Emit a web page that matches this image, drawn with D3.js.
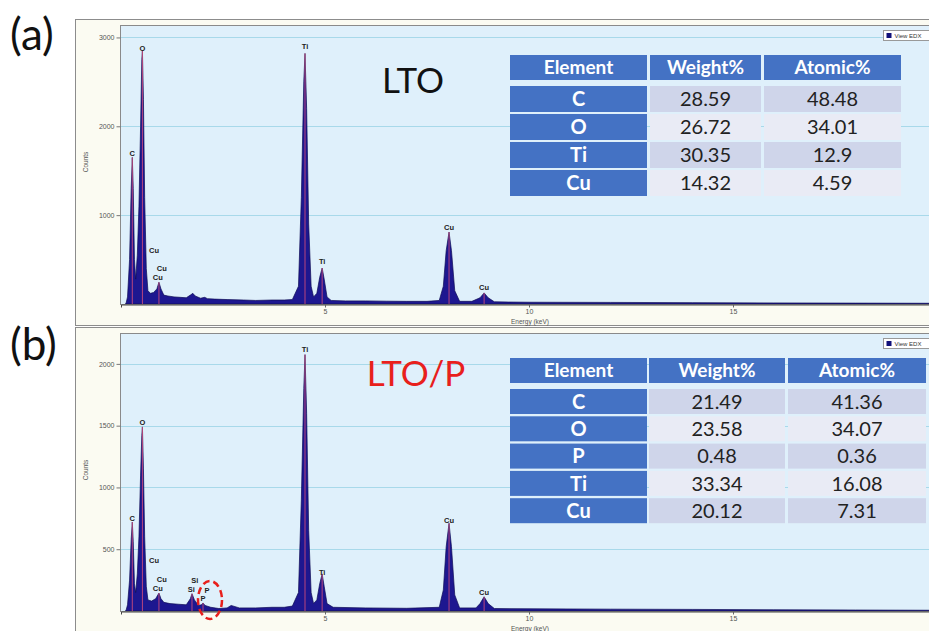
<!DOCTYPE html>
<html>
<head>
<meta charset="utf-8">
<script src="https://cdn.jsdelivr.net/npm/d3@7"></script>
<style>
  body { margin: 0; background: #fff; overflow: hidden; }
  svg { display: block; font-family: "Liberation Sans", Arial, sans-serif; }
</style>
</head>
<body>
<div id="chart"></div>
<script>
// ---- spectrum (a) LTO : energy (keV) / counts
const energyA = [0.10, 0.12, 0.16, 0.21, 0.25, 0.277, 0.30, 0.33, 0.36, 0.40, 0.44, 0.48, 0.51, 0.525, 0.55, 0.58, 0.62, 0.66, 0.72, 0.80, 0.88, 0.93, 0.98, 1.05, 1.15, 1.30, 1.45, 1.60, 1.70, 1.76, 1.82, 1.95, 2.05, 2.12, 2.30, 2.60, 3.00, 3.30, 3.70, 4.00, 4.20, 4.35, 4.42, 4.48, 4.51, 4.55, 4.60, 4.66, 4.72, 4.80, 4.87, 4.93, 4.98, 5.05, 5.15, 5.50, 6.00, 6.50, 7.00, 7.50, 7.80, 7.90, 7.97, 8.04, 8.10, 8.18, 8.30, 8.60, 8.80, 8.90, 9.00, 9.15, 9.50, 10.0, 12.0, 14.0, 16.0, 18.0, 20.0]
const countsA = [0, 0, 80, 500, 1300, 1650, 1300, 500, 280, 550, 1100, 2000, 2750, 2850, 2300, 1200, 400, 150, 120, 130, 170, 245, 170, 100, 90, 80, 75, 70, 100, 120, 90, 65, 75, 60, 55, 50, 45, 40, 45, 45, 50, 200, 1200, 2500, 2820, 2200, 900, 200, 80, 120, 300, 405, 280, 80, 40, 35, 35, 32, 30, 30, 40, 200, 600, 810, 600, 150, 30, 30, 70, 125, 70, 25, 22, 20, 18, 15, 12, 10, 8]

// ---- spectrum (b) LTO/P
const energyB = [0.10, 0.12, 0.16, 0.21, 0.25, 0.277, 0.30, 0.33, 0.36, 0.40, 0.44, 0.48, 0.51, 0.525, 0.55, 0.58, 0.62, 0.66, 0.75, 0.85, 0.93, 0.98, 1.05, 1.20, 1.40, 1.60, 1.70, 1.74, 1.80, 1.90, 1.97, 2.01, 2.06, 2.20, 2.40, 2.60, 2.70, 2.90, 3.30, 3.70, 4.00, 4.20, 4.35, 4.42, 4.48, 4.51, 4.55, 4.60, 4.66, 4.72, 4.80, 4.87, 4.93, 4.98, 5.05, 5.20, 6.00, 7.00, 7.80, 7.90, 7.97, 8.04, 8.10, 8.18, 8.30, 8.70, 8.80, 8.90, 9.00, 9.15, 10.0, 12.0, 14.0, 16.0, 18.0, 20.0]
const countsB = [0, 0, 50, 250, 580, 720, 560, 220, 150, 300, 600, 1100, 1420, 1490, 1150, 600, 200, 90, 80, 100, 145, 100, 70, 60, 55, 50, 100, 140, 90, 45, 50, 65, 45, 30, 20, 25, 45, 25, 25, 30, 30, 40, 150, 900, 1800, 2075, 1600, 650, 150, 60, 90, 220, 300, 200, 60, 30, 25, 22, 30, 170, 520, 710, 520, 130, 25, 25, 60, 115, 60, 20, 18, 15, 13, 10, 8, 6]

// ---- line markers (energy, top counts)
const markerEnergyA = [0.277, 0.525, 0.93, 4.51, 4.93, 8.04, 8.90]
const markerCountsA = [1650, 2850, 245, 2820, 405, 810, 125]
const markerEnergyB = [0.277, 0.525, 0.93, 1.74, 2.01, 4.51, 4.93, 8.04, 8.90]
const markerCountsB = [720, 1490, 145, 140, 65, 2075, 300, 710, 115]

// ---- peak labels
const labelNamesA = ["C", "O", "Cu", "Cu", "Cu", "Ti", "Ti", "Cu", "Cu"]
const labelEnergyA = [0.277, 0.525, 0.81, 1.00, 0.90, 4.51, 4.93, 8.04, 8.90]
const labelCountsA = [1700, 2880, 600, 405, 305, 2905, 484, 867, 190]
const labelNamesB = ["Ti", "O", "C", "Cu", "Cu", "Cu", "Si", "Si", "P", "P", "Ti", "Cu", "Cu"]
const labelEnergyB = [4.51, 0.525, 0.277, 0.81, 1.00, 0.90, 1.81, 1.72, 2.11, 2.01, 4.93, 8.04, 8.90]
const labelCountsB = [2120, 1530, 753, 413, 259, 186, 251, 178, 170, 105, 316, 737, 154]

// ---- ticks
const yTicksA = [1000, 2000, 3000]
const yTicksB = [500, 1000, 1500, 2000]
const xTicks = [5, 10, 15]

// ---- tables
const tableHeader = ["Element", "Weight%", "Atomic%"]
const elementsA = ["C", "O", "Ti", "Cu"]
const weightA = ["28.59", "26.72", "30.35", "14.32"]
const atomicA = ["48.48", "34.01", "12.9", "4.59"]
const elementsB = ["C", "O", "P", "Ti", "Cu"]
const weightB = ["21.49", "23.58", "0.48", "33.34", "20.12"]
const atomicB = ["41.36", "34.07", "0.36", "16.08", "7.31"]

const WIDTH = 929, HEIGHT = 631

const svg = d3.select("#chart").append("svg")
  .attr("width", WIDTH)
  .attr("height", HEIGHT)

svg.append("defs").selectAll("clipPath")
  .data([["clipA", 25, 304], ["clipB", 333, 611]])
  .enter().append("clipPath")
    .attr("id", d => d[0])
  .append("rect")
    .attr("x", 121).attr("y", d => d[1])
    .attr("width", 820).attr("height", d => d[2] - d[1])

const x = d3.scaleLinear().domain([0, 20]).range([121, 121 + 816])

function drawPanel(p) {
  const y = d3.scaleLinear().domain([0, p.yMax]).range([p.bottom, p.top])
  const g = svg.append("g")

  // window frame
  g.append("rect")
    .attr("x", 75.5).attr("y", p.frameTop + 0.5)
    .attr("width", 900).attr("height", p.frameBottom - p.frameTop)
    .attr("fill", "#fbfbf2")
    .attr("stroke", "#8c8c8c")

  // plot background
  g.append("rect")
    .attr("x", 120.5).attr("y", p.top + 0.5)
    .attr("width", 830).attr("height", p.bottom - p.top)
    .attr("fill", "#dff0fb")
    .attr("stroke", "#8a8a8a")

  // grid
  g.selectAll(".grid")
    .data(p.yTicks)
    .enter().append("line")
      .attr("x1", 121).attr("x2", 940)
      .attr("y1", d => Math.round(y(d)) + 0.5)
      .attr("y2", d => Math.round(y(d)) + 0.5)
      .attr("stroke", "#a8d9ea")

  // y axis
  const yAxis = g.append("g")
    .attr("transform", "translate(120.5,0)")
    .call(d3.axisLeft(y).tickValues(p.yTicks).tickFormat(d3.format("d")).tickSize(4).tickPadding(2))
  yAxis.select(".domain").remove()
  yAxis.selectAll("line").attr("stroke", "#777")
  yAxis.selectAll("text").attr("font-size", 7).attr("fill", "#555")

  // x axis
  const xAxis = g.append("g")
    .attr("transform", `translate(0,${p.bottom + 0.5})`)
    .call(d3.axisBottom(x).tickValues(xTicks).tickSize(3).tickPadding(2))
  xAxis.select(".domain").attr("stroke", "#444")
  xAxis.selectAll("line").attr("stroke", "#666")
  xAxis.selectAll("text").attr("font-size", 7).attr("fill", "#555")

  g.append("text")
    .attr("x", 530).attr("y", p.bottom + 20)
    .attr("text-anchor", "middle")
    .attr("font-size", 6.5).attr("fill", "#555")
    .text("Energy (keV)")

  g.append("text")
    .attr("transform", `translate(88,${p.countsY}) rotate(-90)`)
    .attr("text-anchor", "middle")
    .attr("font-size", 6.5).attr("fill", "#555")
    .text("Counts")

  // spectrum
  const pts = p.energy.map((e, i) => ({ e: e, c: p.counts[i] }))
  const area = d3.area()
    .x(d => x(d.e))
    .y0(y(0))
    .y1(d => y(d.c))

  const plot = g.append("g").attr("clip-path", `url(#${p.clip})`)
  plot.append("path")
    .datum(pts)
    .attr("d", area)
    .attr("fill", "#1d1790")
    .attr("stroke", "#0e0b55")
    .attr("stroke-width", 0.7)

  plot.selectAll(".marker")
    .data(p.markerE.map((e, i) => ({ e: e, c: p.markerC[i] })))
    .enter().append("line")
      .attr("x1", d => x(d.e)).attr("x2", d => x(d.e))
      .attr("y1", y(0)).attr("y2", d => y(d.c))
      .attr("stroke", "#e0507a")
      .attr("stroke-width", 0.8)

  g.selectAll(".plabel")
    .data(p.labelNames.map((n, i) => ({ n: n, e: p.labelE[i], c: p.labelC[i] })))
    .enter().append("text")
      .attr("x", d => x(d.e))
      .attr("y", d => y(d.c))
      .attr("dy", "0.35em")
      .attr("text-anchor", "middle")
      .attr("font-size", 7.5)
      .attr("font-weight", "bold")
      .attr("fill", "#222")
      .text(d => d.n)

  // "View EDX" legend box
  const lg = g.append("g").attr("transform", `translate(883.5,${p.top + 5.5})`)
  lg.append("rect").attr("width", 60).attr("height", 10)
    .attr("fill", "#fff").attr("stroke", "#999")
  lg.append("rect").attr("x", 3).attr("y", 2.5).attr("width", 5).attr("height", 5)
    .attr("fill", "#10107a")
  lg.append("text").attr("x", 11).attr("y", 7.5)
    .attr("font-size", 6).attr("fill", "#333")
    .text("View EDX")

  return { g: g, y: y }
}

function drawTable(t) {
  const g = svg.append("g").attr("font-family", "Lato, 'Open Sans', sans-serif")
  // header
  t.cols.forEach((cx, j) => {
    g.append("rect")
      .attr("x", cx).attr("y", t.headerY)
      .attr("width", t.widths[j]).attr("height", t.headerH)
      .attr("fill", "#4472c4")
    g.append("text")
      .attr("x", cx + t.widths[j] / 2).attr("y", t.headerY + t.headerH / 2)
      .attr("dy", "0.36em")
      .attr("text-anchor", "middle")
      .attr("font-size", 19).attr("font-weight", "bold")
      .attr("fill", "#fff")
      .text(tableHeader[j])
  })
  t.elements.forEach((el, i) => {
    const ry = t.rowY + i * t.pitch
    const cells = [el, t.weight[i], t.atomic[i]]
    cells.forEach((v, j) => {
      g.append("rect")
        .attr("x", t.cols[j]).attr("y", ry)
        .attr("width", t.widths[j]).attr("height", t.rowH)
        .attr("fill", j === 0 ? "#4472c4" : (i % 2 === 0 ? "#cfd5ea" : "#e9ebf5"))
      g.append("text")
        .attr("x", t.cols[j] + t.widths[j] / 2).attr("y", ry + t.rowH / 2)
        .attr("dy", "0.36em")
        .attr("text-anchor", "middle")
        .attr("font-size", 20)
        .attr("font-weight", j === 0 ? "bold" : "normal")
        .attr("fill", j === 0 ? "#fff" : "#222")
        .text(v)
    })
  })
}

drawPanel({
  frameTop: 19, frameBottom: 325, top: 25, bottom: 304, yMax: 3140,
  yTicks: yTicksA, countsY: 162, clip: "clipA",
  energy: energyA, counts: countsA,
  markerE: markerEnergyA, markerC: markerCountsA,
  labelNames: labelNamesA, labelE: labelEnergyA, labelC: labelCountsA
})

drawPanel({
  frameTop: 327, frameBottom: 645, top: 333, bottom: 611, yMax: 2250,
  yTicks: yTicksB, countsY: 470, clip: "clipB",
  energy: energyB, counts: countsB,
  markerE: markerEnergyB, markerC: markerCountsB,
  labelNames: labelNamesB, labelE: labelEnergyB, labelC: labelCountsB
})

drawTable({
  cols: [510, 650, 764], widths: [137, 111, 137],
  headerY: 55, headerH: 25, rowY: 86, pitch: 28, rowH: 26,
  elements: elementsA, weight: weightA, atomic: atomicA
})

drawTable({
  cols: [510, 649, 788], widths: [137, 136, 138],
  headerY: 358, headerH: 25, rowY: 389, pitch: 27.3, rowH: 25,
  elements: elementsB, weight: weightB, atomic: atomicB
})

// sample titles
svg.append("text")
  .attr("x", 413).attr("y", 93)
  .attr("text-anchor", "middle")
  .attr("font-family", "Lato, sans-serif")
  .attr("font-size", 35).attr("fill", "#111")
  .text("LTO")

svg.append("text")
  .attr("x", 416).attr("y", 386)
  .attr("text-anchor", "middle")
  .attr("font-family", "Lato, sans-serif")
  .attr("font-size", 35).attr("fill", "#e8201c")
  .text("LTO/P")

// panel letters
svg.selectAll(".panel-letter")
  .data([["(a)", 50], ["(b)", 360]])
  .enter().append("text")
    .attr("x", 10).attr("y", d => d[1])
    .attr("font-family", "Lato, sans-serif")
    .attr("font-size", 44).attr("fill", "#111")
    .text(d => d[0])

// dashed ellipse around the P peak
svg.append("ellipse")
  .attr("cx", 210).attr("cy", 600)
  .attr("rx", 12).attr("ry", 19)
  .attr("fill", "none")
  .attr("stroke", "#e8201c")
  .attr("stroke-width", 2.5)
  .attr("stroke-dasharray", "7,4")
</script>
</body>
</html>
